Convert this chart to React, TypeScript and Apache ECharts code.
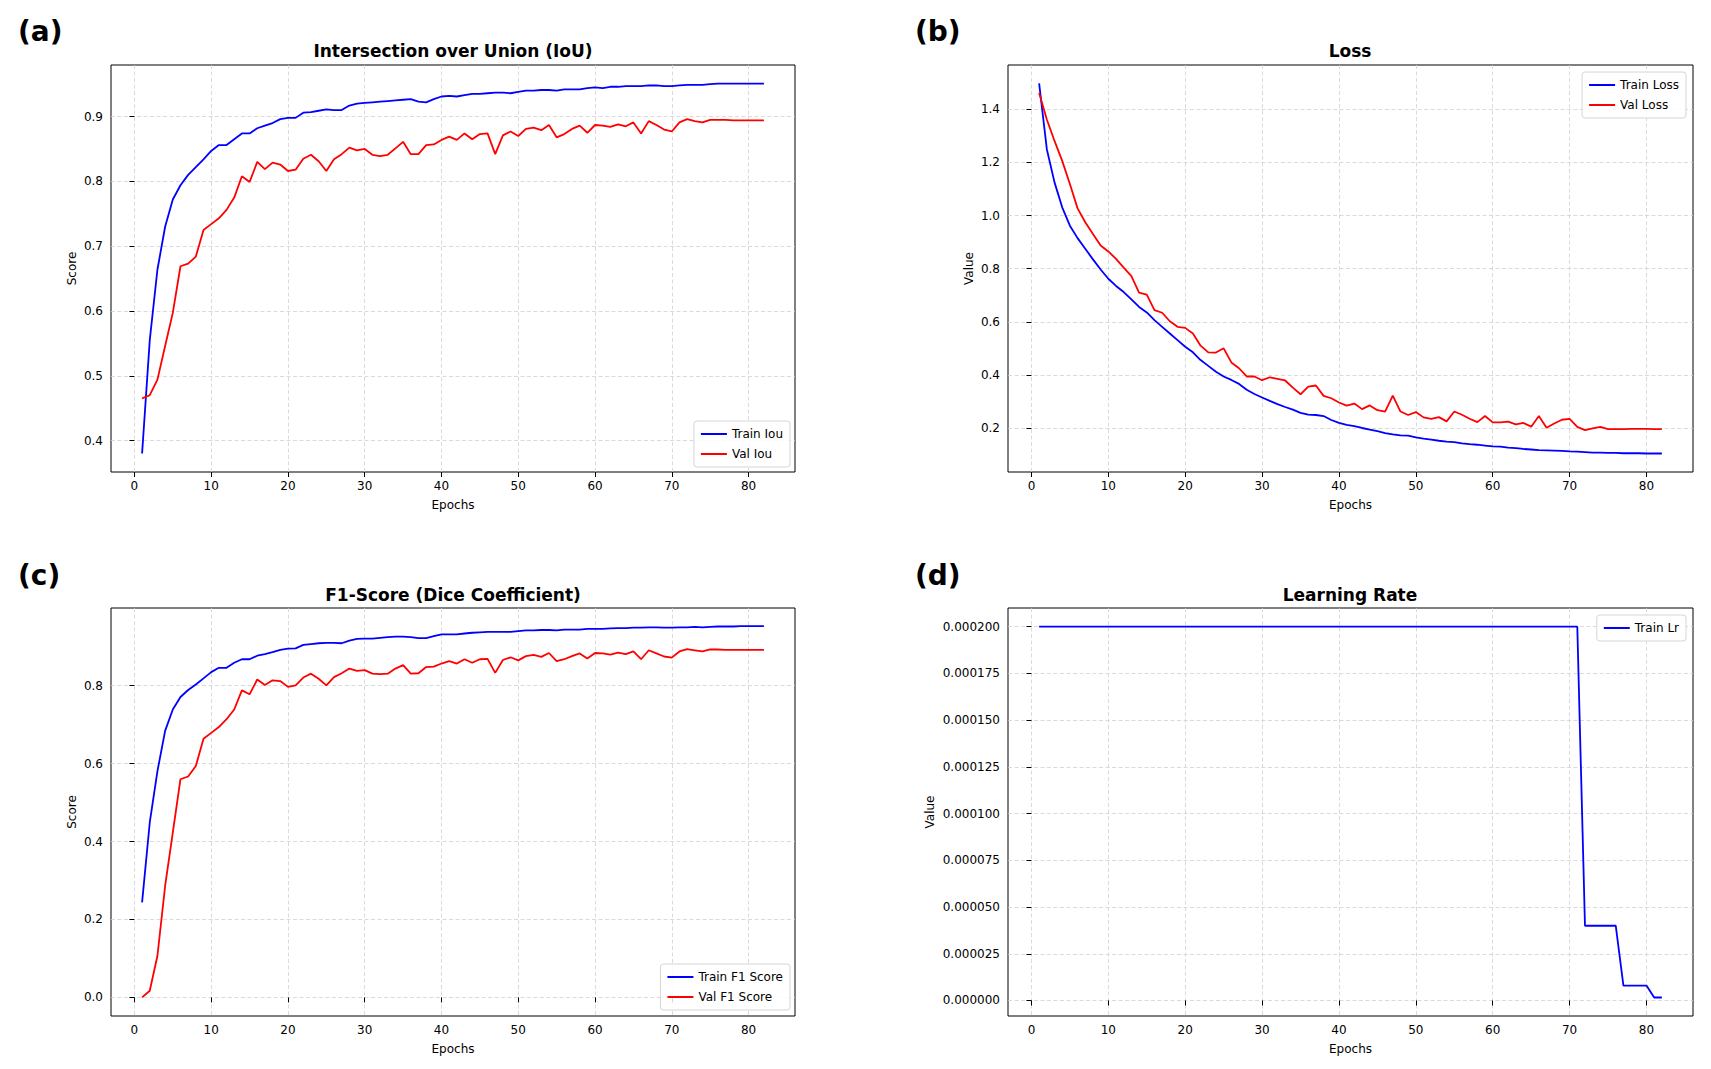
import { useEffect, useRef } from "react"
import * as echarts from "echarts"

// training history, one value per epoch (1..82)
const trainIou = [
  0.380, 0.555, 0.664, 0.730, 0.772, 0.794, 0.810, 0.822, 0.834, 0.847,
  0.856, 0.856, 0.865, 0.874, 0.874, 0.882, 0.886, 0.890, 0.896, 0.898,
  0.898, 0.906, 0.907, 0.909, 0.911, 0.910, 0.910, 0.917, 0.920, 0.921,
  0.922, 0.923, 0.924, 0.925, 0.926, 0.927, 0.923, 0.922, 0.927, 0.931,
  0.932, 0.931, 0.933, 0.935, 0.935, 0.936, 0.937, 0.937, 0.936, 0.938,
  0.940, 0.940, 0.941, 0.941, 0.940, 0.942, 0.942, 0.942, 0.944, 0.945,
  0.944, 0.946, 0.946, 0.947, 0.947, 0.947, 0.948, 0.948, 0.947, 0.947,
  0.948, 0.949, 0.949, 0.949, 0.950, 0.951, 0.951, 0.951, 0.951, 0.951,
  0.951, 0.951,
]

const valIou = [
  0.465, 0.470, 0.494, 0.546, 0.597, 0.669, 0.673, 0.684, 0.725, 0.734,
  0.743, 0.756, 0.775, 0.808, 0.799, 0.830, 0.819, 0.829, 0.826, 0.816,
  0.818, 0.835, 0.841, 0.831, 0.816, 0.834, 0.842, 0.852, 0.848, 0.850,
  0.841, 0.839, 0.841, 0.851, 0.861, 0.842, 0.842, 0.856, 0.857, 0.864,
  0.869, 0.864, 0.874, 0.865, 0.873, 0.874, 0.842, 0.871, 0.877, 0.870,
  0.881, 0.883, 0.879, 0.887, 0.868, 0.873, 0.881, 0.886, 0.875, 0.887,
  0.886, 0.884, 0.888, 0.885, 0.891, 0.874, 0.893, 0.887, 0.880, 0.877,
  0.891, 0.896, 0.893, 0.891, 0.895, 0.895, 0.895, 0.894, 0.894, 0.894,
  0.894, 0.894,
]

const trainLoss = [
  1.498, 1.250, 1.125, 1.031, 0.962, 0.915, 0.875, 0.835, 0.797, 0.762,
  0.735, 0.712, 0.684, 0.656, 0.635, 0.606, 0.581, 0.556, 0.531, 0.506,
  0.485, 0.456, 0.434, 0.412, 0.394, 0.381, 0.366, 0.344, 0.328, 0.315,
  0.302, 0.290, 0.279, 0.269, 0.257, 0.250, 0.249, 0.245, 0.230, 0.219,
  0.212, 0.207, 0.200, 0.194, 0.188, 0.181, 0.176, 0.172, 0.171, 0.165,
  0.160, 0.156, 0.152, 0.149, 0.147, 0.142, 0.139, 0.137, 0.134, 0.131,
  0.130, 0.126, 0.124, 0.121, 0.119, 0.117, 0.116, 0.115, 0.114, 0.112,
  0.111, 0.109, 0.107, 0.107, 0.106, 0.106, 0.105, 0.105, 0.105, 0.104,
  0.104, 0.104,
]

const valLoss = [
  1.462, 1.362, 1.281, 1.206, 1.119, 1.027, 0.975, 0.931, 0.887, 0.865,
  0.837, 0.804, 0.772, 0.710, 0.702, 0.644, 0.634, 0.602, 0.581, 0.577,
  0.556, 0.510, 0.485, 0.484, 0.500, 0.447, 0.425, 0.394, 0.394, 0.380,
  0.391, 0.385, 0.379, 0.352, 0.327, 0.356, 0.360, 0.321, 0.312, 0.296,
  0.284, 0.292, 0.271, 0.285, 0.267, 0.262, 0.322, 0.262, 0.249, 0.260,
  0.240, 0.234, 0.241, 0.225, 0.262, 0.250, 0.235, 0.222, 0.245, 0.221,
  0.221, 0.224, 0.214, 0.219, 0.205, 0.245, 0.201, 0.217, 0.231, 0.234,
  0.204, 0.192, 0.199, 0.204, 0.196, 0.196, 0.196, 0.197, 0.197, 0.197,
  0.196, 0.196,
]

const trainF1 = [
  0.244, 0.449, 0.581, 0.684, 0.739, 0.771, 0.789, 0.803, 0.819, 0.835,
  0.846, 0.846, 0.859, 0.868, 0.868, 0.877, 0.881, 0.886, 0.892, 0.895,
  0.896, 0.905, 0.907, 0.909, 0.910, 0.910, 0.909, 0.916, 0.920, 0.921,
  0.921, 0.923, 0.925, 0.926, 0.926, 0.925, 0.922, 0.922, 0.927, 0.932,
  0.932, 0.932, 0.934, 0.936, 0.937, 0.938, 0.938, 0.938, 0.938, 0.940,
  0.942, 0.942, 0.943, 0.943, 0.942, 0.944, 0.944, 0.944, 0.946, 0.946,
  0.946, 0.947, 0.948, 0.948, 0.949, 0.949, 0.950, 0.950, 0.949, 0.949,
  0.950, 0.950, 0.951, 0.950, 0.951, 0.952, 0.952, 0.952, 0.953, 0.953,
  0.953, 0.953,
]

const valF1 = [
  0.000, 0.017, 0.107, 0.286, 0.423, 0.560, 0.567, 0.594, 0.664, 0.679,
  0.694, 0.714, 0.739, 0.788, 0.778, 0.816, 0.802, 0.814, 0.812, 0.797,
  0.801, 0.821, 0.831, 0.818, 0.801, 0.822, 0.832, 0.844, 0.838, 0.840,
  0.831, 0.830, 0.831, 0.844, 0.853, 0.831, 0.832, 0.848, 0.849, 0.857,
  0.863, 0.857, 0.868, 0.859, 0.868, 0.869, 0.833, 0.866, 0.873, 0.865,
  0.876, 0.879, 0.874, 0.884, 0.863, 0.868, 0.876, 0.883, 0.870, 0.884,
  0.883, 0.880, 0.885, 0.881, 0.888, 0.868, 0.891, 0.883, 0.875, 0.872,
  0.888, 0.894, 0.891, 0.888, 0.893, 0.893, 0.892, 0.892, 0.892, 0.892,
  0.892, 0.892,
]

const trainLr = [
  0.0002, 0.0002, 0.0002, 0.0002, 0.0002, 0.0002, 0.0002, 0.0002, 0.0002, 0.0002,
  0.0002, 0.0002, 0.0002, 0.0002, 0.0002, 0.0002, 0.0002, 0.0002, 0.0002, 0.0002,
  0.0002, 0.0002, 0.0002, 0.0002, 0.0002, 0.0002, 0.0002, 0.0002, 0.0002, 0.0002,
  0.0002, 0.0002, 0.0002, 0.0002, 0.0002, 0.0002, 0.0002, 0.0002, 0.0002, 0.0002,
  0.0002, 0.0002, 0.0002, 0.0002, 0.0002, 0.0002, 0.0002, 0.0002, 0.0002, 0.0002,
  0.0002, 0.0002, 0.0002, 0.0002, 0.0002, 0.0002, 0.0002, 0.0002, 0.0002, 0.0002,
  0.0002, 0.0002, 0.0002, 0.0002, 0.0002, 0.0002, 0.0002, 0.0002, 0.0002, 0.0002,
  0.0002, 0.00004, 0.00004, 0.00004, 0.00004, 0.00004, 0.000008, 0.000008, 0.000008, 0.000008,
  0.0000016, 0.0000016,
]

const epochs = trainIou.map((_, i) => i + 1)
const xTicks = [0, 10, 20, 30, 40, 50, 60, 70, 80]
const iouTicks = [0.4, 0.5, 0.6, 0.7, 0.8, 0.9]
const lossTicks = [0.2, 0.4, 0.6, 0.8, 1.0, 1.2, 1.4]
const f1Ticks = [0, 0.2, 0.4, 0.6, 0.8]
const lrTicks = [0, 0.000025, 0.00005, 0.000075, 0.0001, 0.000125, 0.00015, 0.000175, 0.0002]

const FONT = "DejaVu Sans"
const BLUE = "#0000ff"
const RED = "#ff0000"

const grids = [
  { left: 111, top: 65, width: 684, height: 407 },
  { left: 1008, top: 65, width: 685, height: 407 },
  { left: 111, top: 608, width: 684, height: 408 },
  { left: 1008, top: 608, width: 685, height: 408 },
]

const splitLine = { show: true, lineStyle: { color: "#d0d0d0", type: [4, 2.5], width: 0.8 } }
const tick = { show: true, length: 5, lineStyle: { color: "#000", width: 1 } }
const labelStyle = { color: "#000", fontSize: 12, fontFamily: FONT, margin: 8 }

function xAxis(i: number) {
  return {
    type: "value",
    gridIndex: i,
    min: -3.05,
    max: 86.05,
    splitNumber: 9,
    name: "Epochs",
    nameLocation: "middle",
    nameGap: 27,
    nameTextStyle: { color: "#000", fontSize: 12, fontFamily: FONT },
    axisLine: { show: false },
    axisTick: { ...tick, customValues: xTicks },
    axisLabel: { ...labelStyle, customValues: xTicks },
    splitLine,
  }
}

function yAxis(i: number, name: string, min: number, max: number, ticks: number[], digits: number, gap: number) {
  return {
    type: "value",
    gridIndex: i,
    min,
    max,
    name,
    nameLocation: "middle",
    nameGap: gap,
    nameTextStyle: { color: "#000", fontSize: 12, fontFamily: FONT },
    axisLine: { show: false },
    axisTick: { ...tick, customValues: ticks },
    axisLabel: {
      ...labelStyle,
      customValues: ticks,
      formatter: (v: number) => v.toFixed(digits),
    },
    splitLine,
  }
}

function line(name: string, values: number[], color: string, idx: number) {
  return {
    name,
    type: "line",
    xAxisIndex: idx,
    yAxisIndex: idx,
    data: epochs.map((e, i) => [e, values[i]]),
    showSymbol: false,
    symbol: "none",
    lineStyle: { color, width: 1.8 },
    itemStyle: { color },
  }
}

function legend(names: string[], pos: Record<string, number>) {
  return {
    orient: "vertical",
    ...pos,
    data: names,
    icon: "rect",
    itemWidth: 26,
    itemHeight: 2,
    itemGap: 6,
    padding: [6, 7, 6, 7],
    backgroundColor: "rgba(255,255,255,0.85)",
    borderColor: "#d6d6d6",
    borderWidth: 1,
    borderRadius: 3,
    textStyle: { color: "#000", fontSize: 12, fontFamily: FONT, lineHeight: 14 },
  }
}

function text(str: string, x: number, y: number, size: number, align: string) {
  return {
    type: "text",
    x,
    y,
    style: {
      text: str,
      fill: "#000",
      font: `bold ${size}px "${FONT}"`,
      textAlign: align,
      textVerticalAlign: "middle",
    },
  }
}

export default function App() {
  const chartRef = useRef<HTMLDivElement>(null)

  useEffect(() => {
    document.body.style.margin = "0"
    if (!chartRef.current) return
    const chart = echarts.init(chartRef.current, null, { renderer: "svg" })

    const option: any = {
      animation: false,
      backgroundColor: "#fff",
      textStyle: { fontFamily: FONT },
      grid: grids.map((g) => ({ ...g, show: true, borderColor: "#000", borderWidth: 1, backgroundColor: "transparent" })),
      xAxis: [0, 1, 2, 3].map(xAxis),
      yAxis: [
        yAxis(0, "Score", 0.3515, 0.9796, iouTicks, 1, 33),
        yAxis(1, "Value", 0.0343, 1.567, lossTicks, 1, 33),
        yAxis(2, "Score", -0.0477, 0.9995, f1Ticks, 1, 33),
        yAxis(3, "Value", -0.0000083, 0.00021, lrTicks, 6, 72),
      ],
      legend: [
        legend(["Train Iou", "Val Iou"], { right: 921, bottom: 602 }),
        legend(["Train Loss", "Val Loss"], { right: 25, top: 72 }),
        legend(["Train F1 Score", "Val F1 Score"], { right: 921, bottom: 59 }),
        legend(["Train Lr"], { right: 25, top: 615 }),
      ],
      series: [
        line("Train Iou", trainIou, BLUE, 0),
        line("Val Iou", valIou, RED, 0),
        line("Train Loss", trainLoss, BLUE, 1),
        line("Val Loss", valLoss, RED, 1),
        line("Train F1 Score", trainF1, BLUE, 2),
        line("Val F1 Score", valF1, RED, 2),
        line("Train Lr", trainLr, BLUE, 3),
      ],
      graphic: [
        text("(a)", 18, 31, 28, "left"),
        text("(b)", 915, 31, 28, "left"),
        text("(c)", 18, 575, 28, "left"),
        text("(d)", 915, 575, 28, "left"),
        text("Intersection over Union (IoU)", 453, 51, 17, "center"),
        text("Loss", 1350, 51, 17, "center"),
        text("F1-Score (Dice Coefficient)", 453, 595, 17, "center"),
        text("Learning Rate", 1350, 595, 17, "center"),
      ],
    }

    chart.setOption(option)
    return () => chart.dispose()
  }, [])

  return <div ref={chartRef} style={{ width: 1711, height: 1069 }} />
}
